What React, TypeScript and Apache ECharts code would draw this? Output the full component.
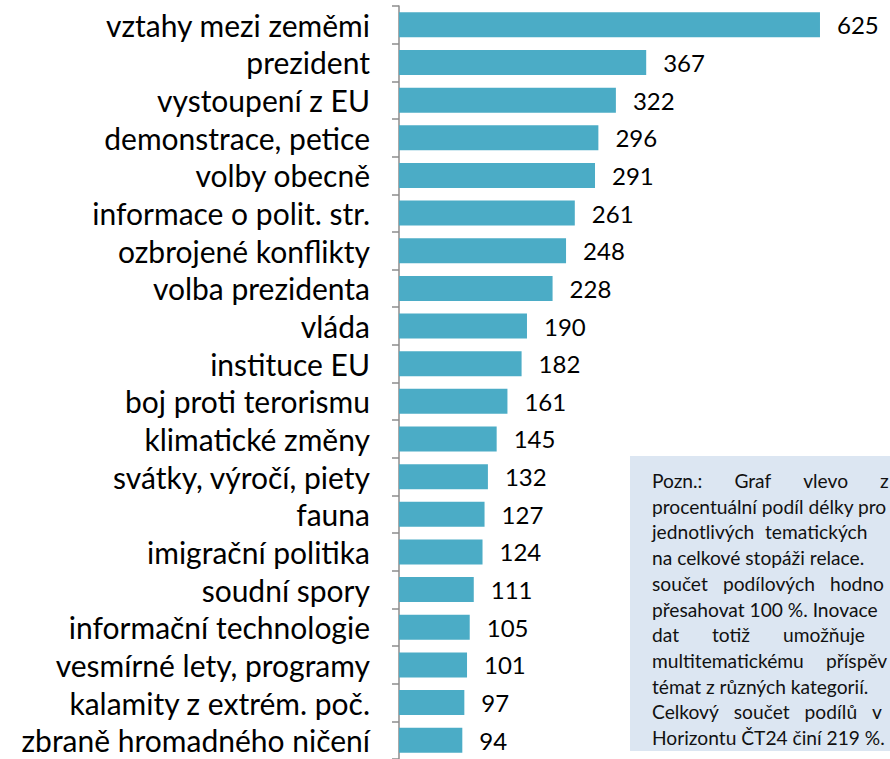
import React, { useEffect, useRef } from "react";
import * as echarts from "echarts";

const categories = [
  "vztahy mezi zeměmi",
  "prezident",
  "vystoupení z EU",
  "demonstrace, petice",
  "volby obecně",
  "informace o polit. str.",
  "ozbrojené konflikty",
  "volba prezidenta",
  "vláda",
  "instituce EU",
  "boj proti terorismu",
  "klimatické změny",
  "svátky, výročí, piety",
  "fauna",
  "imigrační politika",
  "soudní spory",
  "informační technologie",
  "vesmírné lety, programy",
  "kalamity z extrém. poč.",
  "zbraně hromadného ničení",
];

const values = [625, 367, 322, 296, 291, 261, 248, 228, 190, 182, 161, 145, 132, 127, 124, 111, 105, 101, 97, 94];

// Note text as visible in the reference (justified text, cut at the right edge)
const noteLines: string[][] = [
  ["Pozn.:", "Graf", "vlevo", "z"],
  ["procentuální podíl délky pro"],
  ["jednotlivých", "tematických"],
  ["na celkové stopáži relace."],
  ["součet", "podílových", "hodno"],
  ["přesahovat 100 %. Inovace"],
  ["dat", "totiž", "umožňuje"],
  ["multitematickému", "příspěv"],
  ["témat z různých kategorií."],
  ["Celkový", "součet", "podílů", "v"],
  ["Horizontu ČT24 činí 219 %."],
];
// layout: x where the last word of a justified line starts (0 = not justified)
const noteLastWordX = [880, 0, 765, 0, 830, 0, 783, 826, 0, 872, 0];

export default function App() {
  const ref = useRef<HTMLDivElement>(null);
  useEffect(() => {
    if (!ref.current) return;
    const chart = echarts.init(ref.current, null, { renderer: "svg" });
    const font = "Lato, 'Noto Sans', sans-serif";
    const noteFontSize = 19.2;
    const noteFont = `${noteFontSize}px ${font}`;
    const ctx = document.createElement("canvas").getContext("2d")!;
    ctx.font = noteFont;
    const left = 652;
    const noteGraphics: any[] = [
      {
        type: "rect",
        shape: { x: 630, y: 456, width: 300, height: 295 },
        style: { fill: "#DCE6F2" },
        z: 10,
      },
    ];
    noteLines.forEach((words, i) => {
      const y = 480.5 + i * 25.7;
      let xs: number[] = [left];
      if (words.length > 1 && noteLastWordX[i] > 0) {
        const widths = words.map((w) => ctx.measureText(w).width);
        const used = widths.slice(0, -1).reduce((a, b) => a + b, 0);
        const gap = (noteLastWordX[i] - left - used) / (words.length - 1);
        xs = [];
        let x = left;
        words.forEach((w, j) => {
          xs.push(x);
          x += widths[j] + gap;
        });
      }
      words.forEach((w, j) => {
        noteGraphics.push({
          type: "text",
          x: xs[j] ?? left,
          y,
          style: {
            text: w,
            fill: "#111",
            font: noteFont,
            verticalAlign: "middle",
            align: "left",
          },
          z: 11,
        });
      });
    });

    chart.setOption({
      animation: false,
      grid: { left: 399, top: 6, width: 471.5, height: 760, containLabel: false },
      xAxis: {
        type: "value",
        min: 0,
        max: 700,
        show: false,
      },
      yAxis: {
        type: "category",
        data: categories,
        inverse: true,
        axisLine: { show: true, lineStyle: { color: "#8C8C8C", width: 1.5 } },
        axisTick: { show: true, length: 7, lineStyle: { color: "#8C8C8C", width: 1.5 } },
        axisLabel: {
          interval: 0,
          margin: 29,
          color: "#000",
          fontSize: 30,
          fontFamily: font,
        },
        splitLine: { show: false },
      },
      series: [
        {
          type: "bar",
          data: values,
          barWidth: 25,
          itemStyle: { color: "#4BACC6" },
          label: {
            show: true,
            position: "right",
            distance: 17,
            color: "#000",
            fontSize: 24,
            fontFamily: font,
          },
        },
      ],
      graphic: noteGraphics,
    });
    return () => chart.dispose();
  }, []);
  return (
    <div
      ref={ref}
      style={{ position: "fixed", left: 0, top: 0, width: 890, height: 759, background: "#fff" }}
    />
  );
}
